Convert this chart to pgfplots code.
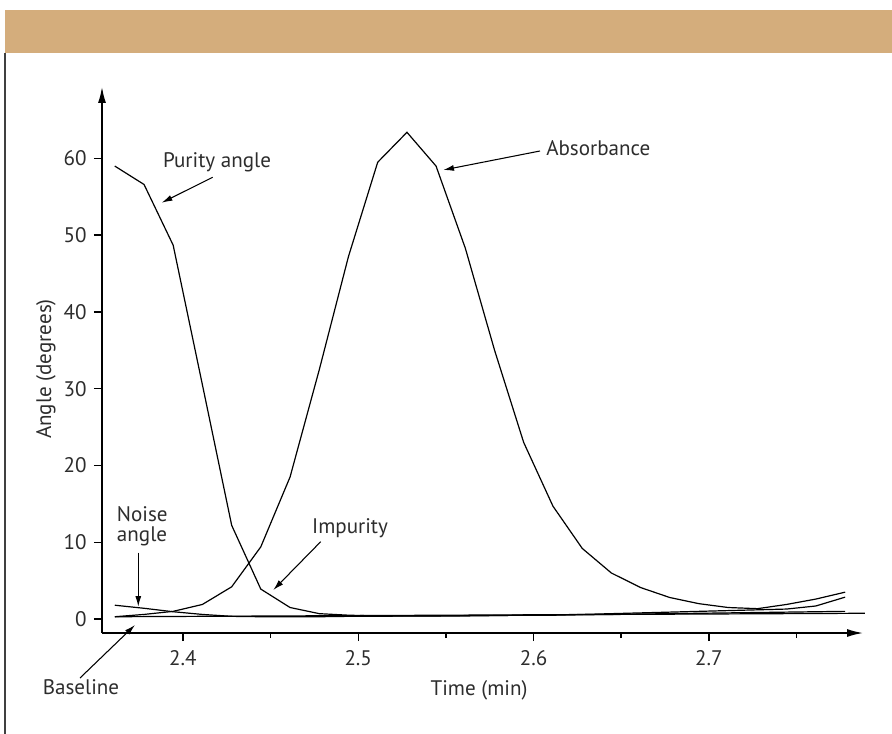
\documentclass[border=0pt]{standalone}
\usepackage{fontspec}
\setmainfont{PT Sans}
\usepackage{pgfplots}
\pgfplotsset{compat=1.18}
\usetikzlibrary{arrows.meta}
\definecolor{headtan}{RGB}{212,173,124}
\definecolor{txt}{RGB}{45,45,45}
\newcommand{\fs}{\fontsize{15.8}{18.5}\selectfont}
\begin{document}
\fs
\begin{tikzpicture}
\begin{scope}[x=0.75pt,y=-0.75pt]
\path[use as bounding box] (0,0) rectangle (892,734);
\fill[headtan] (5,10) rectangle (892,53);
\draw[line width=1pt,black!75] (5,53) -- (5,734);
\end{scope}
\begin{axis}[
  at={(76.5pt,-474.75pt)}, anchor=south west,
  scale only axis, width=570.75pt, height=409.5pt,
  xmin=2.3538, xmax=2.788, ymin=-1.82, ymax=69.3,
  axis lines=left,
  axis line style={line width=1.1pt,-{Latex[length=12pt,width=6pt]}},
  xtick={2.4,2.5,2.6,2.7}, minor xtick={2.45,2.55,2.65,2.75},
  ytick={0,10,...,60},
  xticklabels={2.4,2.5,2.6,2.7},
  tick align=outside,
  major tick length=6pt, minor tick length=3.75pt,
  every tick/.style={line width=1.1pt,black},
  tick label style={font=\fs, text=txt},
  /pgf/number format/assume math mode=true,
  xticklabel style={yshift=-2pt},
  clip=false,
]
% Absorbance
\addplot[black,line width=0.9pt] coordinates {
(2.3611,0.3)(2.3778,0.6)(2.3944,1.0)(2.4111,1.9)(2.4278,4.2)(2.4444,9.4)
(2.4611,18.5)(2.4778,32.5)(2.4944,47.2)(2.5111,59.5)(2.5278,63.4)(2.5444,59.0)
(2.5611,48.3)(2.5778,35.0)(2.5944,23.0)(2.6111,14.7)(2.6278,9.2)(2.6444,6.0)
(2.6611,4.1)(2.6778,2.8)(2.6944,2.0)(2.7111,1.5)(2.7278,1.35)(2.7444,1.9)
(2.7611,2.6)(2.7778,3.5)};
% Purity angle
\addplot[black,line width=0.9pt] coordinates {
(2.3611,59.0)(2.3778,56.6)(2.3944,48.7)(2.4111,30.5)(2.4278,12.2)(2.4444,3.9)
(2.4611,1.5)(2.4778,0.7)(2.4944,0.5)(2.5111,0.4)(2.5278,0.4)(2.5444,0.4)
(2.5611,0.4)(2.5778,0.45)(2.5944,0.5)(2.6111,0.55)(2.6278,0.6)(2.6444,0.7)
(2.6611,0.8)(2.6778,0.9)(2.6944,1.0)(2.7111,1.1)(2.7278,1.2)(2.7444,1.3)
(2.7611,1.7)(2.7778,2.85)};
% Noise angle
\addplot[black,line width=0.9pt] coordinates {
(2.3611,1.8)(2.3778,1.4)(2.3944,0.95)(2.4111,0.6)(2.4278,0.35)(2.4444,0.3)
(2.4611,0.3)(2.4778,0.3)(2.4944,0.35)(2.5111,0.35)(2.5278,0.4)(2.5444,0.4)
(2.5611,0.45)(2.5778,0.45)(2.5944,0.5)(2.6111,0.5)(2.6278,0.55)(2.6444,0.6)
(2.6611,0.65)(2.6778,0.7)(2.6944,0.75)(2.7111,0.8)(2.7278,0.85)(2.7444,0.9)
(2.7611,0.95)(2.7778,1.0)};
% Baseline
\addplot[black,line width=0.9pt] coordinates {(2.3611,0.3)(2.789,0.75)};
\end{axis}
\begin{scope}[x=0.75pt,y=-0.75pt]
\begin{scope}[every node/.style={text=txt,font=\fs,inner sep=0pt}]
\node at (217,162.7) {Purity angle};
\node[anchor=west] at (546,147.7) {Absorbance};
\node at (350,528) {Impurity};
\node[anchor=west] at (116.7,514) {Noise};
\node[anchor=west] at (116.7,536.7) {angle};
\node at (81,687.3) {Baseline};
\node at (479,690) {Time (min)};
\node[rotate=90] at (46,369) {Angle (degrees)};
\end{scope}
\begin{scope}[line width=0.8pt,-{Latex[length=8pt,width=4.5pt]}]
\draw (212.7,177.3) -- (161.7,202.7);
\draw (540,151) -- (443.3,170);
\draw (320.7,541.7) -- (273.3,590);
\draw (138.3,552.7) -- (138.3,606.7);
\draw (80,678) -- (135,625);
\end{scope}
\end{scope}
\end{tikzpicture}
\end{document}
